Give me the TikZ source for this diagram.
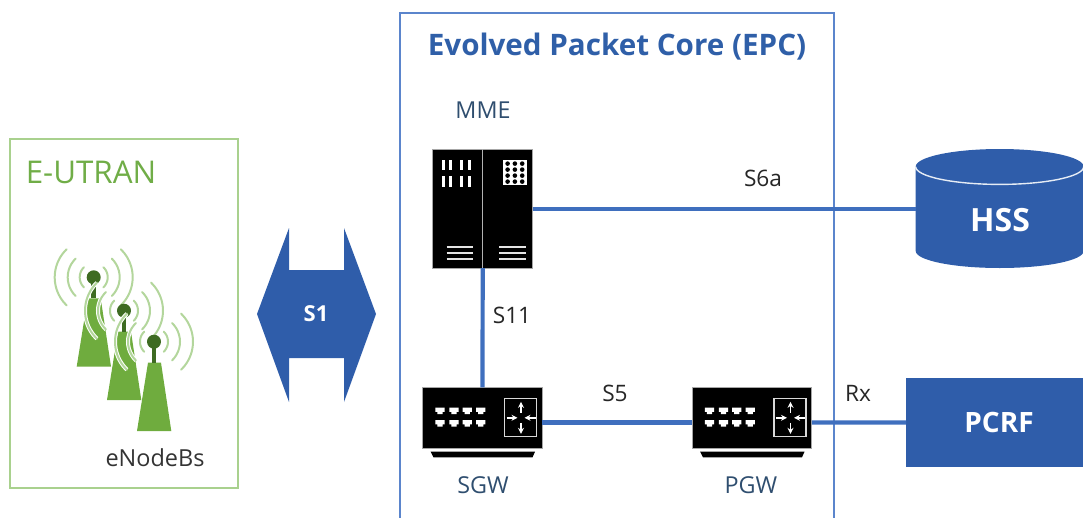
\documentclass[tikz,border=0pt]{standalone}
\usepackage{fontspec}
\setmainfont{Open Sans}
\usetikzlibrary{arrows.meta}
\definecolor{linkblue}{HTML}{3F6FBE}
\definecolor{fillblue}{HTML}{2F5DAA}
\definecolor{titleblue}{HTML}{2F5FA8}
\definecolor{boxblue}{HTML}{5B85CC}
\definecolor{labelblue}{HTML}{2F4E6F}
\definecolor{gbox}{HTML}{A9D18E}
\definecolor{gtext}{HTML}{70AD47}
\definecolor{gtower}{HTML}{6FAC3E}
\definecolor{gball}{HTML}{3E6B22}
\definecolor{gwave}{HTML}{B3D69C}
\def\px{0.75pt}
\tikzset{
  x=0.75pt,y=-0.75pt,
  link/.style={draw=linkblue,line width=4.2*\px},
  dev/.style={fill=black,draw=black!35,line width=0.8*\px,inner sep=0pt,outer sep=0pt},
  lbl/.style={font=\fontsize{17}{20}\selectfont,text=black!85,inner sep=0pt},
  dlbl/.style={font=\fontsize{17.5}{20}\selectfont,text=labelblue,inner sep=0pt},
  wlbl/.style={font=\bfseries\fontsize{21}{24}\selectfont,text=white,inner sep=0pt},
  wave/.style={draw=gwave,line width=2*\px,line cap=round},
  halo/.style={draw=white,line width=4*\px},
  wht/.style={draw=white!90!black,line width=2*\px},
  sw/.pic={
    \foreach \a in {-42.5,-28.5,-15.2,-1.8}\foreach \b in {-7,5.5}{
      \fill[white] (\a-4.6,\b-3.2)--(\a+4.6,\b-3.2)--(\a+4.6,\b+1)--(\a+2.6,\b+1)--(\a+2.6,\b+3.2)--(\a-2.6,\b+3.2)--(\a-2.6,\b+1)--(\a-4.6,\b+1)--cycle;
    }
    \draw[draw=white!85!black,line width=1.5*\px] (21.8,-19.5) rectangle (54.2,18.9);
    \foreach \dx/\dy/\ex/\ey in {38.5/-5/38.5/-16, 38.5/5/38.5/16, 24/0/35/0, 53/0/42/0}
      \draw[white,line width=1.5*\px,-{Stealth[length=6*\px,width=6*\px]}] (\dx,\dy)--(\ex,\ey);
    \fill[black] (-51.8,33.9)--(52.5,33.9)--(50,39.5)--(-49,39.5)--cycle;
  }
}
\newcommand{\towerbody}[2]{%
  \fill[gtower] (#1-17,#2+89.3)--(#1+17.3,#2+89.3)--(#1+7,#2+21)--(#1-6,#2+21)--cycle;
  \draw[gball,line width=4.5*\px] (#1,#2)--(#1,#2+21);
  \fill[gball] (#1,#2) circle[radius=7];
}
\newcommand{\wavearc}[5]{% cx cy r from to
  \draw[#5] plot[smooth,domain=#4-46:#4+46,samples=13] ({#1+#3*cos(\x)},{#2+#3*sin(\x)});
}
\begin{document}
\begin{tikzpicture}
\useasboundingbox (0,0) rectangle (1083,518);
\clip (0,0) rectangle (1083,518);
% containers
\node[draw=gbox,line width=2*\px,minimum width=228*\px,minimum height=349*\px,inner sep=0pt] (eutran) at (124,313.5) {};
\node[text=gtext,font=\fontsize{23.5}{26}\selectfont,inner sep=0pt] (eutranl) at (91,172) {E-UTRAN};
\coordinate (epcbl) at (400,530);
\coordinate (epctl) at (400,13);
\coordinate (epctr) at (834,13);
\coordinate (epcbr) at (834,530);
\draw[draw=boxblue,line width=1.8*\px] (epcbl)--(epctl)--(epctr)--(epcbr);
\node[text=titleblue,font=\bfseries\fontsize{22.2}{26}\selectfont,inner sep=0pt] (epc) at (617,47) {Evolved Packet Core (EPC)};
% towers
\foreach \cx/\cy in {93.7/277.3,124/310.7,154/341.7}{
  \foreach \r in {14,26,39}{
    \wavearc{\cx}{\cy}{\r}{180}{halo}
  }
  \begingroup
  \towerbody{\cx}{\cy}
  \endgroup
  \foreach \r in {14,26,39}{
    \wavearc{\cx}{\cy}{\r}{180}{wave}
    \wavearc{\cx}{\cy}{\r}{0}{wave}
  }
}
\node[font=\fontsize{17.6}{20}\selectfont,text=black!80,inner sep=0pt] (enb) at (155,458) {eNodeBs};
% S1
\fill[fillblue] (257,314)--(289,228)--(289,270)--(344,270)--(344,228)--(376,314)--(344,402)--(344,358)--(289,358)--(289,402)--cycle;
\node[font=\bfseries\fontsize{16.5}{20}\selectfont,text=white,inner sep=0pt] (s1) at (316,314) {S1};
% MME
\node[dev,minimum width=100*\px,minimum height=119*\px] (mme) at (482.7,208.5) {};
\draw[draw=black!30,line width=1.4*\px] (482.4,149)--(482.4,268);
\foreach \a/\b in {441.7/444.6,449/452,460/463,467.5/470.5}\foreach \c/\d in {159.5/170,175.6/186.6}
  \fill[white] (\a,\c) rectangle (\b,\d);
\fill[white] (503.3,160) rectangle (526.5,185.3);
\foreach \a in {507.6,514.9,522.2}\foreach \b in {163.6,169.6,175.6,181.6}
  \fill[black] (\a,\b) circle[radius=2.3];
\foreach \b in {246.7,252.8,259.3}{
  \draw[wht] (446.7,\b)--(473.3,\b);
  \draw[wht] (499.3,\b)--(526,\b);
}
\node[dlbl] (mmel) at (483,110) {MME};
% switches
\node[dev,minimum width=119.6*\px,minimum height=61*\px] (sgw) at (482.5,417.8) {};
\pic at (sgw.center) {sw};
\node[dlbl] (sgwl) at (483,485) {SGW};
\node[dev,minimum width=119.6*\px,minimum height=61*\px] (pgw) at (752,417.8) {};
\pic at (pgw.center) {sw};
\node[dlbl] (pgwl) at (751,485) {PGW};
% HSS
\coordinate (hssl) at (915.7,209);
\fill[fillblue] (915.7,166.7) arc[start angle=180,end angle=360,x radius=84,y radius=17.7]
  -- (1083.7,251) arc[start angle=0,end angle=180,x radius=84,y radius=17] -- cycle;
\draw[draw=white!88!fillblue,line width=1.4*\px] (915.7,166.7) arc[start angle=180,end angle=0,x radius=84,y radius=17.7];
\node[wlbl,font=\bfseries\fontsize{24}{28}\selectfont] (hss) at (1000,220) {HSS};
% PCRF
\node[fill=fillblue,minimum width=180*\px,minimum height=89*\px,inner sep=0pt,outer sep=0pt] (pcrfbox) at (996,422.5) {};
\node[wlbl] (pcrf) at (999,422) {PCRF};
% connectors
\draw[link] (mme.east|-hssl)--(hssl);
\draw[link] (mme.south)--(sgw.north);
\draw[link] ([yshift=-3.5pt]sgw.east)--([yshift=-3.5pt]pgw.west);
\draw[link] ([yshift=-3.5pt]pgw.east)--(pcrfbox.west);
% link labels
\node[lbl] (s6a) at (763,178) {S6a};
\node[lbl] (s11) at (512,315) {S11};
\node[lbl] (s5) at (615,393) {S5};
\node[lbl] (rx) at (858,393) {Rx};
\end{tikzpicture}
\end{document}
